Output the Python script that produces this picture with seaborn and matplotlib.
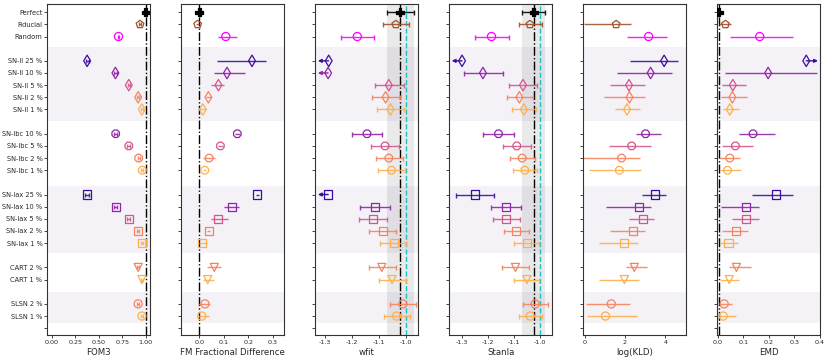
import numpy as np
import pandas as pd
import matplotlib
matplotlib.use("Agg")
import matplotlib.pyplot as plt
import seaborn as sns

# rows, top to bottom; one blank row between groups
groups = [
    ["Perfect", "Fiducial", "Random"],
    ["SN-II 25 %", "SN-II 10 %", "SN-II 5 %", "SN-II 2 %", "SN-II 1 %"],
    ["SN-Ibc 10 %", "SN-Ibc 5 %", "SN-Ibc 2 %", "SN-Ibc 1 %"],
    ["SN-Iax 25 %", "SN-Iax 10 %", "SN-Iax 5 %", "SN-Iax 2 %", "SN-Iax 1 %"],
    ["CART 2 %", "CART 1 %"],
    ["SLSN 2 %", "SLSN 1 %"],
]

# FOM3 (small symmetric errors)
fom3 = [1.0, 0.94, 0.71, 0.375, 0.677, 0.82, 0.92, 0.96, 0.68, 0.82, 0.925,
        0.964, 0.375, 0.68, 0.82, 0.92, 0.964, 0.92, 0.96, 0.92, 0.96]
fom3_err = [0.005, 0.01, 0.01, 0.015, 0.015, 0.01, 0.01, 0.01, 0.015, 0.015, 0.01,
            0.01, 0.02, 0.015, 0.015, 0.01, 0.01, 0.01, 0.01, 0.01, 0.01]

# FM fractional difference: value, lower, upper
fm = [0.0, -0.007, 0.108, 0.215, 0.113, 0.078, 0.037, 0.014, 0.155, 0.086, 0.04,
      0.022, 0.236, 0.132, 0.075, 0.038, 0.012, 0.061, 0.034, 0.023, 0.01]
fm_lo = [-0.003, -0.013, 0.078, 0.072, 0.060, 0.048, 0.026, 0.003, 0.145, 0.076, 0.016,
         0.016, 0.230, 0.102, 0.048, 0.033, -0.003, 0.031, 0.016, -0.007, -0.011]
fm_hi = [0.003, -0.001, 0.153, 0.271, 0.188, 0.101, 0.048, 0.026, 0.165, 0.096, 0.064,
         0.028, 0.242, 0.161, 0.117, 0.043, 0.03, 0.089, 0.06, 0.044, 0.04]

# wfit
wfit = [-1.021, -1.036, -1.179, -1.285, -1.287, -1.062, -1.074, -1.056, -1.143, -1.076, -1.062,
        -1.052, -1.287, -1.114, -1.119, -1.085, -1.044, -1.088, -1.05, -1.01, -1.033]
wfit_lo = [-1.068, -1.085, -1.241, -1.325, -1.325, -1.115, -1.125, -1.105, -1.198, -1.127, -1.111,
           -1.101, -1.325, -1.170, -1.172, -1.137, -1.095, -1.137, -1.1, -1.056, -1.08]
wfit_hi = [-0.970, -0.988, -1.116, -1.285, -1.287, -1.007, -1.022, -1.004, -1.087, -1.024, -1.011,
           -1.001, -1.287, -1.058, -1.067, -1.036, -0.998, -1.037, -1.0, -0.963, -0.985]
wfit_limits = ["SN-II 25 %", "SN-II 10 %", "SN-Iax 25 %"]

# Stanla
stan = [-1.023, -1.037, -1.186, -1.30, -1.219, -1.064, -1.078, -1.061, -1.159, -1.088, -1.067,
        -1.057, -1.251, -1.131, -1.13, -1.09, -1.05, -1.093, -1.049, -1.017, -1.036]
stan_lo = [-1.068, -1.081, -1.251, -1.34, -1.293, -1.117, -1.125, -1.107, -1.217, -1.14, -1.116,
           -1.104, -1.324, -1.188, -1.181, -1.138, -1.098, -1.144, -1.097, -1.062, -1.081]
stan_hi = [-0.980, -0.992, -1.118, -1.30, -1.143, -1.01, -1.027, -1.012, -1.1, -1.034, -1.018,
           -1.009, -1.178, -1.073, -1.077, -1.041, -1.003, -1.041, -1.003, -0.969, -0.991]
stan_limits = ["SN-II 25 %"]

# log(KLD) (no value for Perfect)
kld = [np.nan, 1.56, 3.17, 3.94, 3.27, 2.2, 2.22, 2.1, 3.02, 2.33, 1.83,
       1.72, 3.47, 2.71, 2.88, 2.41, 1.95, 2.46, 1.97, 1.32, 1.03]
kld_lo = [np.nan, -0.03, 2.08, 2.27, 1.62, 1.26, 0.98, 1.49, 2.53, 1.19, -0.13,
          0.2, 2.83, 1.04, 2.18, 1.24, 0.69, 2.03, 0.73, 0.07, 0.13]
kld_hi = [np.nan, 2.28, 4.1, 4.61, 4.33, 3.01, 3.01, 2.73, 3.79, 3.31, 2.75,
          2.8, 4.02, 3.27, 3.42, 3.01, 2.65, 3.09, 2.68, 2.25, 2.58]

# EMD
emd = [0.004, 0.03, 0.164, 0.346, 0.197, 0.059, 0.057, 0.047, 0.138, 0.069, 0.047,
       0.038, 0.229, 0.109, 0.109, 0.07, 0.042, 0.073, 0.045, 0.025, 0.021]
emd_lo = [0.002, 0.004, 0.047, 0.346, 0.029, 0.018, 0.013, 0.022, 0.082, 0.016, 0.005,
          0.009, 0.134, 0.013, 0.055, 0.018, 0.009, 0.043, 0.009, 0.009, 0.006]
emd_hi = [0.006, 0.051, 0.294, 0.392, 0.388, 0.111, 0.116, 0.083, 0.224, 0.138, 0.086,
          0.09, 0.294, 0.16, 0.16, 0.117, 0.079, 0.129, 0.082, 0.055, 0.07]
emd_limits = ["SN-II 25 %"]

true_w = -1.0

# shaded groups (row units)
bands = [(2.85, 8.92), (14.27, 19.79), (23.0, 25.55)]

markers = {"Perfect": "P", "Fiducial": "p", "Random": "o", "SN-II": "d",
           "SN-Ibc": "8", "SN-Iax": "s", "CART": "v", "SLSN": "o"}
base_colors = {"Perfect": "black", "Fiducial": "#a0522d", "Random": "#ff00ff"}
level_colors = {"25": "#3b0f9e", "10": "#9124a8", "5": "#d4578a",
                "2": "#f4845f", "1": "#fdb14d"}

sns.set_theme(style="ticks", rc={
    "xtick.labelsize": 4.6, "ytick.labelsize": 4.8, "axes.labelsize": 6.2,
    "xtick.major.size": 2, "ytick.major.size": 2,
    "xtick.major.width": 0.6, "ytick.major.width": 0.6,
    "axes.linewidth": 0.8, "axes.edgecolor": "#333333",
})
plt.rcParams["font.family"] = ["DejaVu Sans"]

labels, ypos = [], []
y = 0
for grp in groups:
    for lab in grp:
        labels.append(lab)
        ypos.append(y)
        y += 1
    y += 1
tick_pos = ypos + [ypos[-1] + 1]
tick_lab = labels + [""]

row_marker, row_color = {}, {}
for lab in labels:
    parts = lab.split()
    row_marker[lab] = markers[parts[0]]
    row_color[lab] = base_colors.get(parts[0], level_colors.get(parts[-2] if len(parts) > 2 else "", "k"))

panels = [
    dict(name="FOM3", val=fom3, lo=[v - e for v, e in zip(fom3, fom3_err)],
         hi=[v + e for v, e in zip(fom3, fom3_err)], limits=[], cap=1.5,
         xlim=(-0.05, 1.05), xticks=[0, 0.25, 0.5, 0.75, 1.0], fmt="{:.2f}", span=False),
    dict(name="FM Fractional Difference", val=fm, lo=fm_lo, hi=fm_hi, limits=[], cap=0,
         xlim=(-0.074, 0.347), xticks=[0.0, 0.1, 0.2, 0.3], fmt="{:.1f}", span=False),
    dict(name="wfit", val=wfit, lo=wfit_lo, hi=wfit_hi, limits=wfit_limits, cap=1.8,
         xlim=(-1.335, -0.953), xticks=[-1.3, -1.2, -1.1, -1.0], fmt="{:.1f}", span=True),
    dict(name="StanIa", val=stan, lo=stan_lo, hi=stan_hi, limits=stan_limits, cap=1.8,
         xlim=(-1.35, -0.951), xticks=[-1.3, -1.2, -1.1, -1.0], fmt="{:.1f}", span=True),
    dict(name="log(KLD)", val=kld, lo=kld_lo, hi=kld_hi, limits=[], cap=0,
         xlim=(-0.08, 5.03), xticks=[0, 2, 4], fmt="{:.0f}", span=False),
    dict(name="EMD", val=emd, lo=emd_lo, hi=emd_hi, limits=emd_limits, cap=0,
         xlim=(-0.003, 0.4), xticks=[0.0, 0.1, 0.2, 0.3, 0.4], fmt="{:.1f}", span=False),
]

fig, axes = plt.subplots(1, 6, sharey=True, figsize=(8.3, 3.61), dpi=100)
fig.subplots_adjust(left=0.057, right=0.988, top=0.989, bottom=0.072, wspace=0.3)

for ax, p in zip(axes, panels):
    for a, b in bands:
        ax.axhspan(a, b, color="#6a3d9a", alpha=0.07, lw=0, zorder=0)

    # reference: the Perfect sample
    if not np.isnan(p["val"][0]):
        ax.axvline(p["val"][0], color="black", ls="-.", lw=1.0, zorder=1)
    if p["span"]:
        ax.axvspan(p["lo"][0], p["hi"][0], color="grey", alpha=0.16, lw=0, zorder=0)
        ax.axvline(true_w, color="#17c3c3", ls="--", lw=1.0, zorder=1)

    for lab, yy, v, lo, hi in zip(labels, ypos, p["val"], p["lo"], p["hi"]):
        if np.isnan(v):
            continue
        c = row_color[lab]
        if lab in p["limits"]:
            tip = lo if (v - lo) > (hi - v) else hi
            ax.annotate("", xy=(tip, yy), xytext=(v, yy),
                        arrowprops=dict(arrowstyle="-|>", color=c, lw=1.0,
                                        shrinkA=0, shrinkB=0, mutation_scale=5))
        else:
            ax.errorbar(v, yy, xerr=[[v - lo], [hi - v]], fmt="none", ecolor=c,
                        elinewidth=1.0, capsize=p["cap"], capthick=1.0, alpha=0.9, zorder=2)

    df = pd.DataFrame({"label": labels, "y": ypos, "x": p["val"]}).dropna()
    sns.scatterplot(data=df, x="x", y="y", hue="label", style="label",
                    palette=row_color, markers=row_marker, s=34, linewidth=0.9,
                    legend=False, ax=ax, zorder=3)
    pts = ax.collections[-1]
    cols = pts.get_facecolors()
    pts.set_edgecolors(cols)
    face = [c if c[:3].sum() == 0 else (1, 1, 1, 0) for c in cols]
    pts.set_facecolors(face)

    ax.set_xlim(*p["xlim"])
    ax.set_xticks(p["xticks"])
    ax.set_xticklabels([p["fmt"].format(t) for t in p["xticks"]])
    ax.set_xlabel(p["name"], labelpad=2)
    ax.set_ylabel("")
    ax.tick_params(axis="both", pad=1.5)

axes[0].set_yticks(tick_pos)
axes[0].set_yticklabels(tick_lab)
axes[0].set_ylim(26.56, -0.68)

fig.savefig("out.png", dpi=100)
